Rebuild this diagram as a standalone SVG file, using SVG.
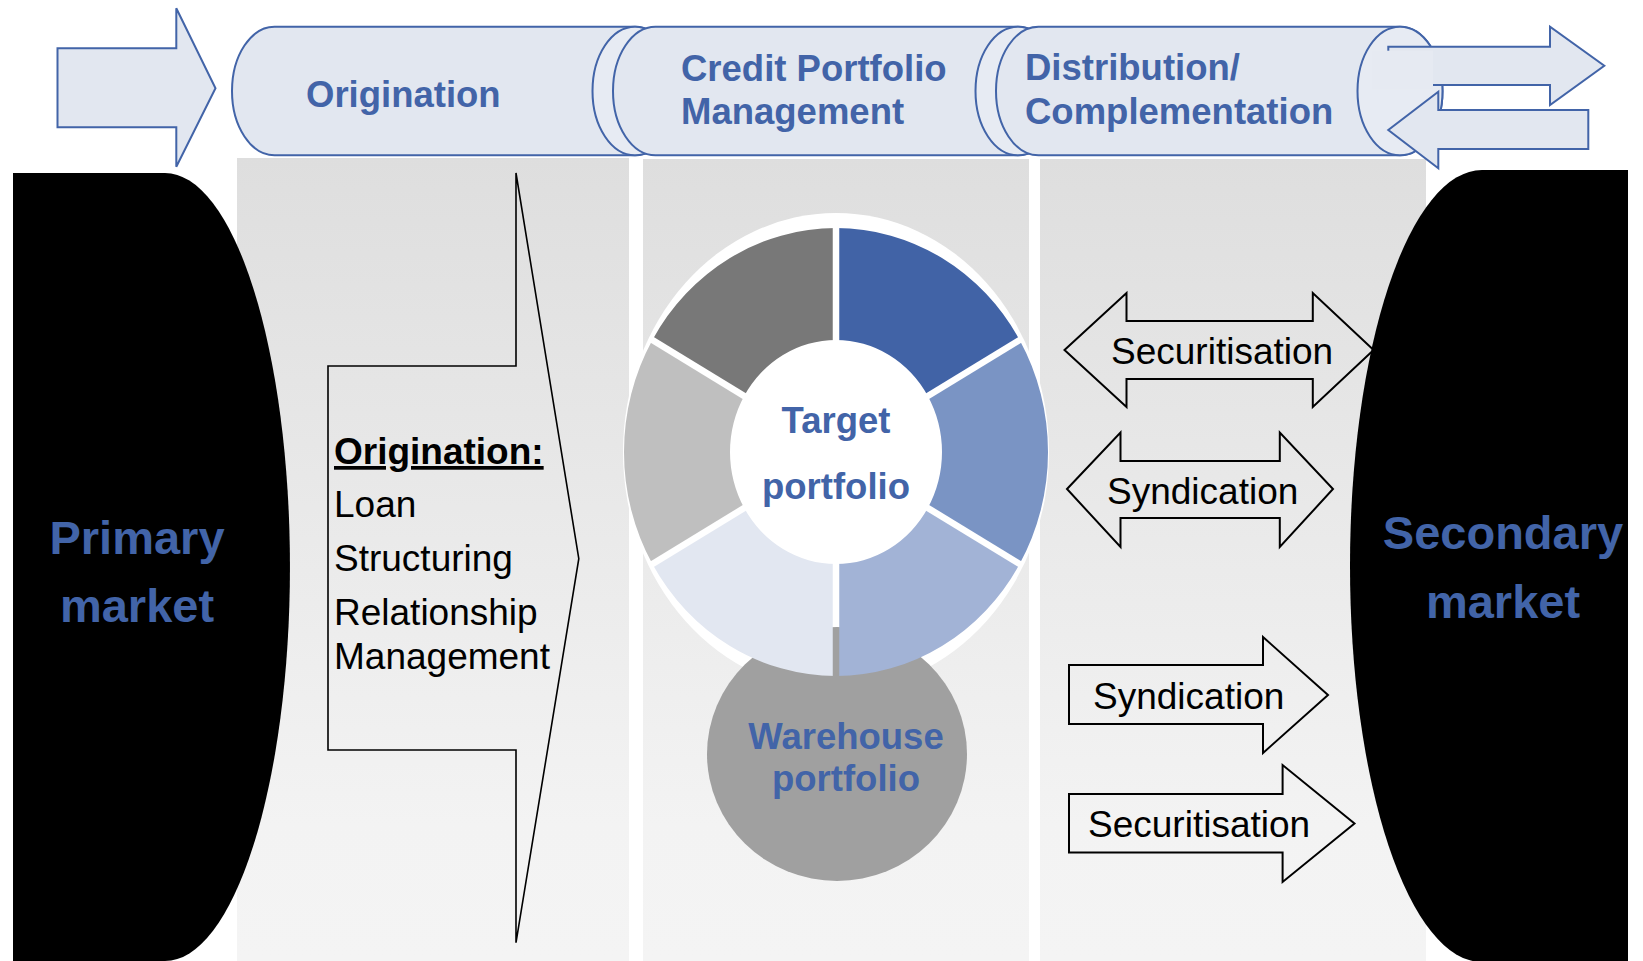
<svg xmlns="http://www.w3.org/2000/svg" width="1643" height="961" viewBox="0 0 1643 961">
  <style>
    .can { fill: #E2E7F0; stroke: #4264A8; stroke-width: 2; }
    .face { fill: #E7EBF3; stroke: #4264A8; stroke-width: 2; }
    .flow { fill: #E2E7F0; stroke: #4264A8; stroke-width: 2; stroke-linejoin: miter; }
    .hdr { font-family: "Liberation Sans", Arial, sans-serif; font-weight: bold; font-size: 36.5px; fill: #4264A8; }
    .mkt { font-family: "Liberation Sans", Arial, sans-serif; font-weight: bold; font-size: 47px; fill: #4264A8; text-anchor: middle; }
    .ring { font-family: "Liberation Sans", Arial, sans-serif; font-weight: bold; font-size: 36.5px; fill: #4264A8; text-anchor: middle; }
    .out { fill: none; stroke: #000; stroke-width: 2; stroke-linejoin: miter; }
    .lbl { font-family: "Liberation Sans", Arial, sans-serif; font-size: 37px; fill: #000; }
    .panel { fill: url(#panelGrad); }
  </style>
  <defs>
    <linearGradient id="panelGrad" gradientUnits="userSpaceOnUse" x1="0" y1="158" x2="0" y2="961">
      <stop offset="0" stop-color="#DEDEDE"/>
      <stop offset="0.83" stop-color="#F3F3F3"/>
      <stop offset="1" stop-color="#F4F4F4"/>
    </linearGradient>
    <!-- gaps between the ring segments are cut out, so the layers below show through -->
    <mask id="ringGaps" maskUnits="userSpaceOnUse" x="0" y="0" width="1643" height="961">
      <rect x="0" y="0" width="1643" height="961" fill="#fff"/>
      <g stroke="#000" stroke-width="6.5">
        <line x1="836" y1="452" x2="836" y2="205"/>
        <line x1="836" y1="452" x2="1038" y2="328.8"/>
        <line x1="836" y1="452" x2="1038" y2="575.2"/>
        <line x1="836" y1="452" x2="836" y2="699"/>
        <line x1="836" y1="452" x2="634" y2="575.2"/>
        <line x1="836" y1="452" x2="634" y2="328.8"/>
      </g>
    </mask>
  </defs>

  <rect x="0" y="0" width="1643" height="961" fill="#fff"/>

  <!-- column backgrounds -->
  <g id="columns">
    <rect class="panel" x="237" y="158" width="392" height="803"/>
    <rect class="panel" x="643" y="159" width="386" height="802"/>
    <rect class="panel" x="1040" y="159" width="386" height="802"/>
  </g>

  <!-- market blocks -->
  <g id="primary-market">
    <path d="M13,173 H165 A125,394 0 0 1 165,961 H13 Z" fill="#000"/>
    <text class="mkt" x="137" y="554">Primary</text>
    <text class="mkt" x="137" y="622">market</text>
  </g>
  <g id="secondary-market">
    <path d="M1628,170 H1482 A132,396 0 0 0 1482,962 H1628 Z" fill="#000"/>
    <text class="mkt" x="1503" y="549">Secondary</text>
    <text class="mkt" x="1503" y="618">market</text>
  </g>

  <!-- process stages along the top -->
  <g id="stage-origination">
    <path class="can" d="M274.5,26.7 H635 A42.5,64.3 0 0 1 635,155.3 H274.5 A42.5,64.3 0 0 1 274.5,26.7 Z"/>
    <ellipse class="face" cx="635" cy="91" rx="42.5" ry="64.3"/>
    <text class="hdr" x="306" y="107">Origination</text>
  </g>
  <g id="stage-cpm">
    <path class="can" d="M655.5,26.7 H1018 A42.5,64.3 0 0 1 1018,155.3 H655.5 A42.5,64.3 0 0 1 655.5,26.7 Z"/>
    <ellipse class="face" cx="1018" cy="91" rx="42.5" ry="64.3"/>
    <text class="hdr" x="681" y="80.5">Credit Portfolio</text>
    <text class="hdr" x="681" y="123.5">Management</text>
  </g>
  <g id="stage-distribution">
    <path class="can" d="M1038.5,26.7 H1400 A42.5,64.3 0 0 1 1400,155.3 H1038.5 A42.5,64.3 0 0 1 1038.5,26.7 Z"/>
    <ellipse class="face" cx="1400" cy="91" rx="42.5" ry="64.3"/>
    <text class="hdr" x="1025" y="79.5">Distribution/</text>
    <text class="hdr" x="1025" y="123.5">Complementation</text>
  </g>

  <!-- flows in and out of the process -->
  <g id="connectors">
    <polygon class="flow" points="57.5,48.3 176.3,48.3 176.3,8.3 215.5,88.3 176.3,166.7 176.3,127.3 57.5,127.3"/>
    <polygon class="flow" points="1388.3,46.7 1550,46.7 1550,26.7 1604.3,65.7 1550,105 1550,85 1388.3,85"/>
    <rect x="1372" y="50.7" width="61" height="38.6" fill="#E6EAF2"/>
    <polygon class="flow" points="1588.3,110 1438.3,110 1438.3,91.7 1388.3,130 1438.3,168.3 1438.3,149 1588.3,149"/>
  </g>

  <!-- origination activities -->
  <g id="origination-activities">
    <polygon points="328,366 516,366 516,173 578.8,558.7 516,942.7 516,750 328,750" fill="none" stroke="#000" stroke-width="1.6"/>
    <text class="lbl" x="334" y="464" font-weight="bold" text-decoration="underline">Origination:</text>
    <text class="lbl" x="334" y="517">Loan</text>
    <text class="lbl" x="334" y="571">Structuring</text>
    <text class="lbl" x="334" y="625">Relationship</text>
    <text class="lbl" x="334" y="669">Management</text>
  </g>

  <!-- portfolio ring -->
  <g id="target-portfolio">
    <ellipse cx="836" cy="452" rx="213" ry="239" fill="#fff"/>
  </g>
  <g id="warehouse-portfolio">
    <ellipse cx="837" cy="754" rx="130" ry="127" fill="#A0A0A0"/>
    <text class="ring" x="846" y="749">Warehouse</text>
    <text class="ring" x="846" y="791">portfolio</text>
  </g>
  <g id="ring-segments" mask="url(#ringGaps)">
    <path d="M836,228 A212,224 0 0 1 1019.6,340 L927.8,396 A106,112 0 0 0 836,340 Z" fill="#4163A6"/>
    <path d="M1019.6,340 A212,224 0 0 1 1019.6,564 L927.8,508 A106,112 0 0 0 927.8,396 Z" fill="#7A94C4"/>
    <path d="M1019.6,564 A212,224 0 0 1 836,676 L836,564 A106,112 0 0 0 927.8,508 Z" fill="#A2B3D6"/>
    <path d="M836,676 A212,224 0 0 1 652.4,564 L744.2,508 A106,112 0 0 0 836,564 Z" fill="#E2E7F1"/>
    <path d="M652.4,564 A212,224 0 0 1 652.4,340 L744.2,396 A106,112 0 0 0 744.2,508 Z" fill="#BFBFBF"/>
    <path d="M652.4,340 A212,224 0 0 1 836,228 L836,340 A106,112 0 0 0 744.2,396 Z" fill="#787878"/>
  </g>
  <g id="target-label">
    <text class="ring" x="836" y="433">Target</text>
    <text class="ring" x="836" y="499">portfolio</text>
  </g>

  <!-- distribution channels -->
  <g id="securitisation-two-way">
    <polygon class="out" points="1064.5,350 1126.5,293 1126.5,321 1312.8,321 1312.8,293 1373.6,350 1312.8,407 1312.8,379 1126.5,379 1126.5,407"/>
    <text class="lbl" x="1111" y="364">Securitisation</text>
  </g>
  <g id="syndication-two-way">
    <polygon class="out" points="1067,489 1120.5,432.5 1120.5,461 1279.8,461 1279.8,432.5 1333,489 1279.8,547 1279.8,518 1120.5,518 1120.5,547"/>
    <text class="lbl" x="1107" y="504">Syndication</text>
  </g>
  <g id="syndication-out">
    <polygon class="out" points="1069,665 1263,665 1263,637 1328,695 1263,753 1263,724 1069,724"/>
    <text class="lbl" x="1093" y="709">Syndication</text>
  </g>
  <g id="securitisation-out">
    <polygon class="out" points="1069,794 1282.6,794 1282.6,765 1354.5,823.5 1282.6,882 1282.6,852.5 1069,852.5"/>
    <text class="lbl" x="1088" y="837">Securitisation</text>
  </g>
</svg>
